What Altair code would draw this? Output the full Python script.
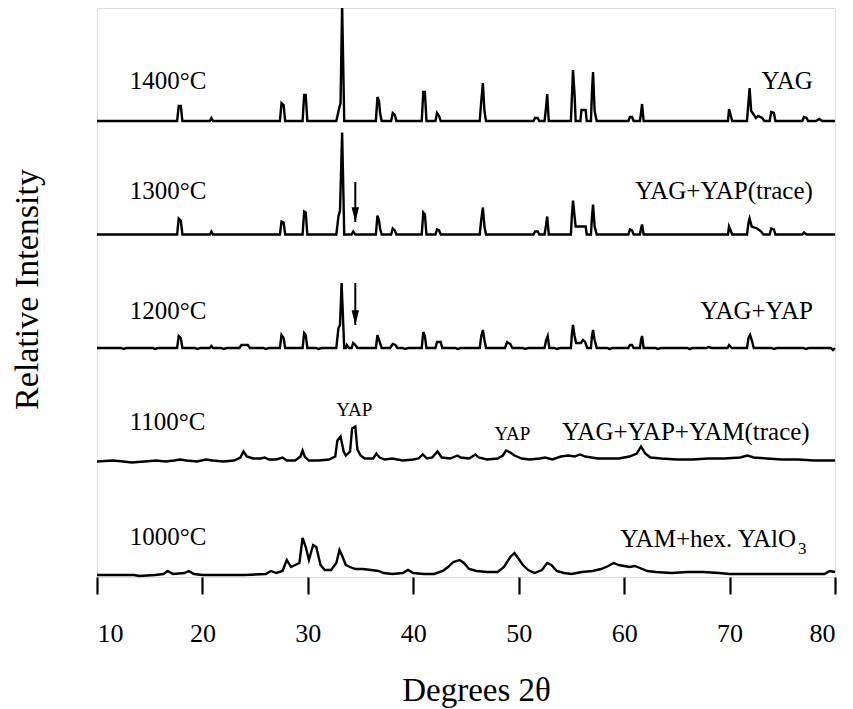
import altair as alt
import pandas as pd

FONT = "Liberation Serif"

# ---- data (2theta, relative intensity above each baseline) ----
temps = ["1400°C", "1300°C", "1200°C", "1100°C", "1000°C"]
offsets = [456, 342.5, 229, 115.5, 2]   # vertical stacking of the patterns

p1400 = [(10,0),(17.6,0),(17.75,15),(17.95,15),(18.1,0),
         (20.7,0),(20.85,3),(21.0,0),
         (27.35,0),(27.5,18),(27.7,16),(27.85,0),
         (29.5,0),(29.65,26),(29.8,26),(29.95,0),
         (32.7,0),(32.95,12),(33.1,18),(33.25,116),(33.45,0),
         (36.45,0),(36.6,24),(36.75,20),(36.85,8),(37.0,0),
         (37.9,0),(38.05,8),(38.25,6),(38.4,0),
         (40.8,0),(40.95,29),(41.1,29),(41.25,0),
         (42.1,0),(42.25,8),(42.45,5),(42.6,0),
         (46.3,0),(46.45,20),(46.6,38),(46.75,10),(46.9,0),
         (51.4,0),(51.55,3),(51.8,3),(51.95,0),
         (52.45,0),(52.6,14),(52.7,27),(52.85,0),
         (54.95,0),(55.05,25),(55.15,51),(55.3,26),(55.4,0),
         (55.85,0),(55.95,11),(56.35,11),(56.45,0),
         (56.85,0),(56.95,30),(57.05,49),(57.2,10),(57.4,0),
         (60.4,0),(60.55,4),(60.75,4),(60.9,0),
         (61.5,0),(61.6,8),(61.7,17),(61.85,0),
         (69.85,0),(69.95,12),(70.1,6),(70.25,0),
         (71.65,0),(71.8,20),(71.9,33),(72.05,10),(72.5,3),(72.7,5),(73.1,3),(73.3,0),
         (73.8,0),(73.95,9),(74.2,8),(74.35,0),
         (76.9,0),(77.05,4),(77.3,3),(77.45,0),
         (78.2,0),(78.5,2),(78.8,0),(80,0)]

p1300 = [(10,0),(17.6,0),(17.75,16),(17.95,14),(18.1,0),
         (20.7,0),(20.85,3),(21.0,0),
         (27.35,0),(27.5,13),(27.7,12),(27.85,0),
         (29.5,0),(29.65,23),(29.8,22),(29.95,0),
         (32.7,0),(32.9,18),(33.05,24),(33.25,102),(33.45,0),
         (34.15,0),(34.3,3),(34.5,0),
         (36.45,0),(36.6,19),(36.75,14),(36.85,6),(37.0,0),
         (37.9,0),(38.05,6),(38.25,4),(38.4,0),
         (40.8,0),(40.95,22),(41.1,20),(41.25,0),
         (42.1,0),(42.25,5),(42.45,4),(42.6,0),
         (46.3,0),(46.45,15),(46.6,27),(46.75,8),(46.9,0),
         (51.4,0),(51.55,3),(51.8,3),(51.95,0),
         (52.45,0),(52.6,10),(52.7,18),(52.85,0),
         (54.95,0),(55.05,20),(55.15,34),(55.3,18),(55.4,8),(56.35,8),(56.45,0),
         (56.85,0),(56.95,18),(57.05,30),(57.2,8),(57.4,0),
         (60.4,0),(60.55,5),(60.75,4),(60.9,0),
         (61.5,0),(61.6,6),(61.7,10),(61.85,0),
         (69.85,0),(69.95,8),(70.1,4),(70.25,0),
         (71.65,0),(71.8,12),(71.9,16),(72.1,8),(72.6,6),(73.0,3),(73.2,0),
         (73.8,0),(73.95,6),(74.2,5),(74.35,0),
         (76.9,0),(77.05,2),(77.3,0),(80,0)]

p1200 = [(10,0),(12.3,0),(12.5,-1),(12.8,0),(15.3,0),(15.5,-1),(15.8,0),
         (17.6,0),(17.75,12),(17.95,10),(18.1,0),
         (19.3,0),(19.5,-1),(19.8,0),
         (20.7,0),(20.85,2),(21.0,0),(21.8,0),(22.0,-1),(22.3,0),
         (23.5,0),(23.7,3),(24.3,3),(24.5,0),(25.8,0),(26.0,-1),(26.3,0),
         (27.35,0),(27.5,13),(27.7,10),(27.85,0),
         (29.5,0),(29.65,15),(29.8,13),(29.95,0),(30.8,0),(31.0,-1),(31.3,0),
         (32.7,0),(32.9,20),(33.05,23),(33.2,65),(33.45,0),
         (33.6,0),(33.7,3),(33.9,0),
         (34.15,0),(34.3,5),(34.5,3),(34.7,0),
         (36.45,0),(36.6,13),(36.75,8),(37.0,0),
         (37.8,0),(38.05,4),(38.3,3),(38.5,0),(39.0,0),(39.2,-1),(39.5,0),
         (40.8,0),(40.95,16),(41.1,12),(41.25,0),
         (42.1,0),(42.25,6),(42.6,6),(42.75,0),(44.0,0),(44.2,-1),(44.5,0),
         (46.3,0),(46.45,12),(46.6,18),(46.75,8),(46.9,0),
         (48.7,0),(48.9,6),(49.2,4),(49.4,0),(50.4,0),(50.6,-1),(50.9,0),
         (52.45,0),(52.6,8),(52.75,12),(52.9,0),(53.4,0),(53.6,-1),(53.9,0),
         (54.95,0),(55.05,15),(55.15,23),(55.3,12),(55.45,5),(55.9,5),(56.1,8),(56.3,6),(56.5,0),
         (56.85,0),(56.95,12),(57.05,18),(57.2,8),(57.4,0),(58.4,0),(58.6,-1),(58.9,0),
         (60.4,0),(60.55,3),(60.75,3),(60.9,0),
         (61.5,0),(61.6,8),(61.7,12),(61.85,0),(63.0,0),(63.2,-1),(63.5,0),
         (66.0,0),(66.2,-1),(66.5,0),(67.8,0),(68.0,1),(68.3,0),
         (69.8,0),(69.95,3),(70.2,0),
         (71.65,0),(71.8,10),(71.95,13),(72.15,6),(72.3,0),
         (74.0,0),(74.2,-1),(74.5,0),(77.0,0),(77.2,-1),(77.5,0),(79.6,0),(79.8,-2),(80,0)]

p1100 = [(10,0),(11.5,1),(12.5,0),(13.3,-1),(14.5,0),(15.6,1),(16.5,0),(17.3,1),(17.9,2),
         (18.5,1),(19.5,0),(20.3,2),(21,1),(22,0),(23,1),(23.6,4),(23.9,10),(24.2,5),
         (24.8,3),(25.5,3),(25.9,4),(26.3,2),(27,2),(27.6,4),(28,1),(28.8,1),(29.3,5),
         (29.5,11),(29.7,5),(30.1,1),(31,1),(32,2),(32.6,5),(32.8,21),(33.1,25),(33.4,10),
         (33.6,6),(34.0,10),(34.2,33),(34.5,35),(34.7,12),(35.0,6),(35.4,3),(36.2,3),
         (36.5,8),(36.8,4),(37.3,2),(38,3),(39,1),(40,2),(40.5,3),(40.9,7),(41.3,3),
         (41.8,4),(42.3,10),(42.7,4),(43.5,3),(44.2,6),(44.5,4),(45.3,3),(45.9,7),(46.2,4),
         (47,2),(48,3),(48.5,6),(48.8,11),(49.2,9),(49.6,6),(50.3,3),(51,2),(52,3),
         (52.5,4),(53.2,2),(54,5),(54.7,6),(55.3,5),(55.8,7),(56.3,5),(56.9,4),(57.5,3),
         (58.5,3),(59.5,3),(60.5,5),(61.2,8),(61.6,15),(62.0,8),(62.5,4),(63.5,3),(65,2),
         (66.5,2),(68,3),(69.5,3),(71,4),(71.7,6),(72.3,4),(73.5,3),(75,2),(76.5,2),
         (78,1),(80,1)]

p1000 = [(10,0),(13.5,0),(14,-1),(15.5,0),(16.3,1),(16.7,4),(17.2,1),(18.3,2),(18.7,4),
         (19.2,1),(20,0),(24,0),(26,1),(26.5,4),(27,2),(27.6,4),(28,15),(28.4,8),(28.8,10),
         (29.2,12),(29.5,37),(29.8,28),(30.1,15),(30.5,30),(30.8,28),(31.2,10),(31.6,5),
         (32.2,5),(32.7,12),(33.0,25),(33.3,18),(33.6,10),(34.0,8),(34.5,6),(35.2,6),
         (36.0,5),(36.7,4),(37.2,2),(38,1),(39,2),(39.5,5),(40,2),(41,1),(42,1),(42.8,4),
         (43.3,8),(43.8,13),(44.4,15),(44.8,12),(45.3,6),(46,4),(47,3),(48,3),(48.6,8),
         (49.2,18),(49.6,22),(50,16),(50.4,10),(50.9,5),(51.5,2),(52.2,5),(52.7,12),
         (53.1,10),(53.6,4),(54.3,2),(55,1),(56,3),(57,4),(57.8,6),(58.5,9),(59.0,12),
         (59.5,10),(60.0,9),(60.5,8),(61.0,9),(61.5,7),(62.2,4),(63,3),(64.5,2),(66,3),
         (67.5,3),(69,2),(70,1),(75,1),(79,1),(79.5,4),(80,3)]

patterns = [p1400, p1300, p1200, p1100, p1000]

# labels: temperature (left) and phases (right)
phase_text = ["YAG", "YAG+YAP(trace)", "YAG+YAP", "YAG+YAP+YAM(trace)", "YAM+hex. YAlO"]
temp_label_x = 13.1
temp_label_y = [496, 386, 266, 155, 40]
phase_label_x = [77.9, 77.9, 77.9, 77.6, 76.3]
phase_label_y = [496, 386, 266, 145, 38]
sub_text, sub_x, sub_y = "3", 76.5, 28

yap_text = ["YAP", "YAP"]
yap_x = [34.4, 49.4]
yap_y = [167, 143]

arrow_x = [34.5, 34.5]
arrow_top = [395, 294]
arrow_tip = [355, 252]

x_ticks = [10, 20, 30, 40, 50, 60, 70, 80]

# ---- build tables ----
rows = []
for t, off, pts in zip(temps, offsets, patterns):
    for i, (x, v) in enumerate(pts):
        rows.append({"trace": t, "x": x, "y": off + v, "order": i})
df = pd.DataFrame(rows)

temp_df = pd.DataFrame({"text": temps, "x": temp_label_x, "y": temp_label_y})
phase_df = pd.DataFrame({"text": phase_text, "x": phase_label_x, "y": phase_label_y})
sub_df = pd.DataFrame({"text": [sub_text], "x": [sub_x], "y": [sub_y]})
yap_df = pd.DataFrame({"text": yap_text, "x": yap_x, "y": yap_y})
arrow_df = pd.DataFrame({"x": arrow_x, "y": arrow_top, "y2": arrow_tip})

W, H = 738, 569
xs = alt.Scale(domain=[10, 80], nice=False, zero=False)
ys = alt.Scale(domain=[0, 569], nice=False, zero=False)

lines = alt.Chart(df).mark_line(color="black", strokeWidth=2.4, clip=False).encode(
    x=alt.X("x:Q", scale=xs, axis=alt.Axis(
        values=x_ticks, title="Degrees 2θ", domain=False, grid=False,
        tickSize=17, tickWidth=2.2, tickColor="black",
        labelFont=FONT, labelFontSize=26, labelColor="black", labelPadding=26,
        titleFont=FONT, titleFontSize=33, titleFontWeight="normal", titleColor="black",
        titleX=379, titleY=113, titleBaseline="middle")),
    y=alt.Y("y:Q", scale=ys, axis=alt.Axis(
        title="Relative Intensity", domain=False, ticks=False, labels=False, grid=False,
        titleFont=FONT, titleFontSize=34, titleFontWeight="normal", titleColor="black",
        titleX=-70, titleY=281, titleAngle=270, titleBaseline="middle", titleAlign="center")),
    detail="trace:N",
    order="order:Q",
)

temp_txt = alt.Chart(temp_df).mark_text(font=FONT, fontSize=25, align="left", baseline="middle",
                                        color="black").encode(
    x=alt.X("x:Q", scale=xs), y=alt.Y("y:Q", scale=ys), text="text:N")
phase_txt = alt.Chart(phase_df).mark_text(font=FONT, fontSize=25, align="right", baseline="middle",
                                          color="black").encode(
    x=alt.X("x:Q", scale=xs), y=alt.Y("y:Q", scale=ys), text="text:N")
sub_txt = alt.Chart(sub_df).mark_text(font=FONT, fontSize=17, align="left", baseline="middle",
                                      color="black").encode(
    x=alt.X("x:Q", scale=xs), y=alt.Y("y:Q", scale=ys), text="text:N")
yap_txt = alt.Chart(yap_df).mark_text(font=FONT, fontSize=19, align="center", baseline="middle",
                                      color="black").encode(
    x=alt.X("x:Q", scale=xs), y=alt.Y("y:Q", scale=ys), text="text:N")

shaft = alt.Chart(arrow_df).mark_rule(color="black", strokeWidth=2).encode(
    x=alt.X("x:Q", scale=xs), y=alt.Y("y:Q", scale=ys), y2="y2:Q")
head = alt.Chart(arrow_df).mark_point(shape="M-0.5,-2L0.5,-2L0,0Z", filled=True, color="black",
                                      opacity=1, size=220).encode(
    x=alt.X("x:Q", scale=xs), y=alt.Y("y2:Q", scale=ys))

chart = alt.layer(lines, shaft, head, temp_txt, phase_txt, sub_txt, yap_txt).properties(
    width=W, height=H,
    autosize=alt.AutoSizeParams(type="none"),
    padding={"left": 89, "top": 0, "right": 10, "bottom": 132},
).configure_view(stroke="black", strokeWidth=2.5).configure(background="white")

chart.save("out.html", embed_options={"renderer": "svg", "actions": False})
